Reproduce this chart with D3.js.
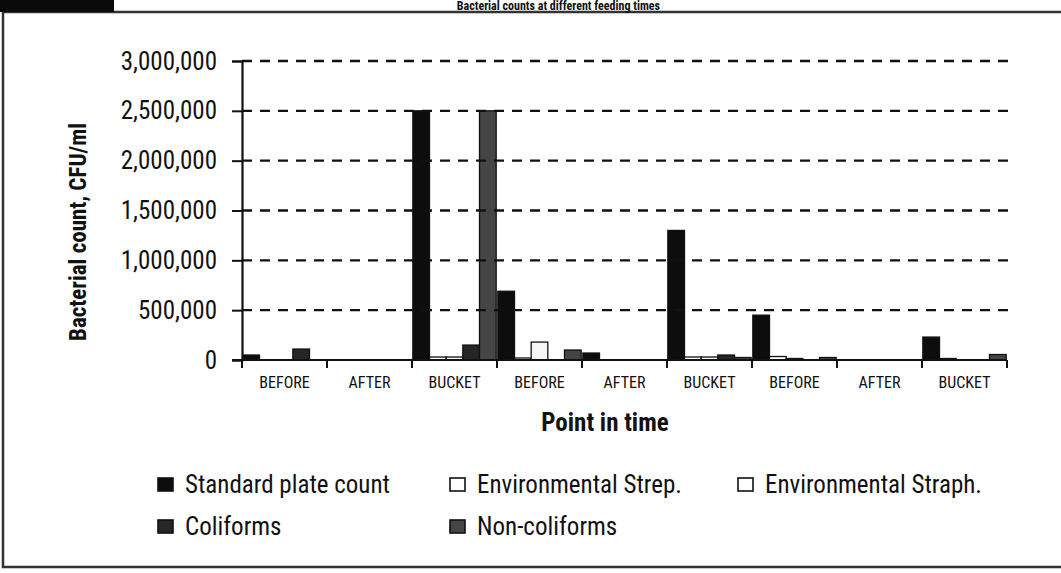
<!DOCTYPE html>
<html><head><meta charset="utf-8">
<script src="https://cdn.jsdelivr.net/npm/d3@7"></script>
<style>
html,body{margin:0;padding:0;background:#fff;}
svg{display:block;}
text{font-family:"Roboto Condensed","Liberation Sans Narrow","Arial Narrow","Liberation Sans",sans-serif;fill:#111;}
</style></head>
<body>
<svg id="chart" width="1061" height="573"></svg>
<script>
// ---- data ----
const categories = ["BEFORE","AFTER","BUCKET","BEFORE","AFTER","BUCKET","BEFORE","AFTER","BUCKET"];
const seriesNames = ["Standard plate count","Environmental Strep.","Environmental Straph.","Coliforms","Non-coliforms"];
const standardPlateCount = [50000, 0, 2500000, 690000, 70000, 1300000, 450000, 0, 230000];
const environmentalStrep = [0, 0, 30000, 20000, 0, 30000, 35000, 0, 15000];
const environmentalStraph = [0, 0, 30000, 180000, 0, 30000, 15000, 0, 0];
const coliforms = [110000, 0, 150000, 0, 0, 50000, 0, 0, 0];
const nonColiforms = [0, 0, 2500000, 100000, 0, 25000, 25000, 0, 55000];
const yTicks = [0, 500000, 1000000, 1500000, 2000000, 2500000, 3000000];
const titleText = "Bacterial counts at different feeding times";
const yTitle = "Bacterial count, CFU/ml";
const xTitle = "Point in time";

const seriesValues = [standardPlateCount, environmentalStrep, environmentalStraph, coliforms, nonColiforms];
const fills = ["#0d0d0d", "#ffffff", "#f6f6f6", "#262626", "#454545"];

(function () {
const svg = d3.select("#chart");
const W = 1061, H = 573;
const FONT = '"Roboto Condensed","Liberation Sans Narrow","Arial Narrow",sans-serif';

// frame / scan edges
svg.append("rect").attr("x", 3).attr("y", 12).attr("width", W + 10).attr("height", 555)
  .attr("fill", "none").attr("stroke", "#333").attr("stroke-width", 2.5);
svg.append("rect").attr("x", 0).attr("y", 0).attr("width", 114).attr("height", 12).attr("fill", "#0a0a0a");
// title in the header strip
svg.append("text")
  .attr("x", 660).attr("y", 9.5).attr("text-anchor", "end")
  .style("font-weight", "bold").style("font-size", "12px").text(titleText);

const pl = 242, pr = 1007, pt = 61, pb = 360;
const x0 = d3.scaleBand().domain(d3.range(categories.length)).range([pl, pr]).paddingInner(0).paddingOuter(0);
const x1 = d3.scaleBand().domain(d3.range(seriesNames.length)).range([0, x0.bandwidth()]).paddingOuter(0.05).paddingInner(0);
const y = d3.scaleLinear().domain([0, 3000000]).range([pb, pt]);

// bars
const g = svg.append("g");
categories.forEach((c, i) => {
  seriesValues.forEach((vals, s) => {
    const v = vals[i];
    if (v <= 0) return;
    g.append("rect")
      .attr("x", x0(i) + x1(s))
      .attr("y", y(v))
      .attr("width", x1.bandwidth())
      .attr("height", y(0) - y(v))
      .attr("fill", fills[s])
      .attr("stroke", "#111").attr("stroke-width", 1.3);
  });
});

// gridlines (drawn over bars)
svg.append("g").selectAll("line").data(yTicks.filter(d => d > 0)).join("line")
  .attr("x1", pl).attr("x2", pr + 2)
  .attr("y1", d => y(d)).attr("y2", d => y(d))
  .attr("stroke", "#111").attr("stroke-width", 2.4).attr("stroke-dasharray", "10,8");

// y axis
const yAxis = d3.axisLeft(y).tickValues(yTicks).tickFormat(d3.format(",")).tickSize(10).tickPadding(15);
const ya = svg.append("g").attr("transform", `translate(${pl},0)`).call(yAxis);
ya.select(".domain").attr("stroke", "#111").attr("stroke-width", 2.2);
ya.selectAll(".tick line").attr("stroke", "#111").attr("stroke-width", 2);
ya.selectAll(".tick text").style("font-size", "25px").attr("fill", "#111").style("font-family", FONT);

// x axis
const xa = svg.append("g").attr("transform", `translate(0,${pb})`);
xa.append("line").attr("x1", pl - 10).attr("x2", pr).attr("y1", 0).attr("y2", 0)
  .attr("stroke", "#111").attr("stroke-width", 2.2);
const bounds = d3.range(categories.length + 1).map(i => i < categories.length ? x0(i) : x0(i - 1) + x0.bandwidth());
xa.selectAll("line.tk").data(bounds).join("line").attr("class", "tk")
  .attr("x1", d => d).attr("x2", d => d).attr("y1", 0).attr("y2", 8)
  .attr("stroke", "#111").attr("stroke-width", 2);
xa.selectAll("text.cat").data(categories).join("text").attr("class", "cat")
  .attr("x", (d, i) => x0(i) + x0.bandwidth() / 2).attr("y", 28)
  .attr("text-anchor", "middle").style("font-size", "16px").text(d => d);

// axis titles
svg.append("text").attr("transform", `translate(86,232) rotate(-90)`)
  .attr("text-anchor", "middle").style("font-weight", "bold").style("font-size", "23px").text(yTitle);
svg.append("text").attr("x", 605).attr("y", 431).attr("text-anchor", "middle")
  .style("font-weight", "bold").style("font-size", "25px").text(xTitle);

// legend
const legendPos = [[158, 493], [450, 493], [738, 493], [158, 535], [450, 535]];
seriesNames.forEach((n, s) => {
  const [lx, ly] = legendPos[s];
  svg.append("rect").attr("x", lx).attr("y", ly - 15).attr("width", 15).attr("height", 13)
    .attr("fill", s === 1 || s === 2 ? "#fff" : fills[s]).attr("stroke", "#111").attr("stroke-width", 1.6);
  svg.append("text").attr("x", lx + 27).attr("y", ly).style("font-size", "25px").text(n);
});
})();
</script>
</body></html>
